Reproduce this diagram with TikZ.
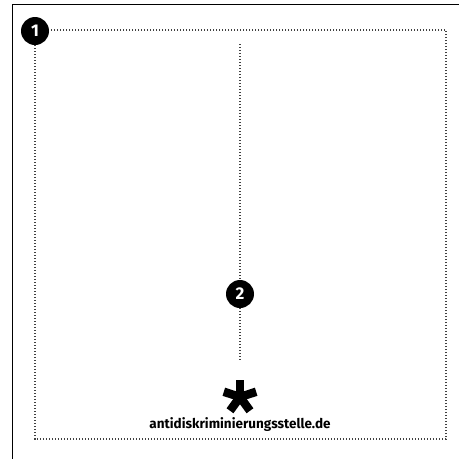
\documentclass[tikz,border=0pt]{standalone}
\usepackage{fontspec}
\setmainfont{Fira Sans}
\tikzset{
  frameline/.style={draw=black,line width=1pt},
  guide/.style={draw=black!75,line width=1.2pt,dash pattern=on 1.2pt off 1.8pt},
  badge/.style={circle,fill=black,text=white,inner sep=0pt,minimum size=28pt,font=\fontsize{17}{17}\selectfont\bfseries},
}
\begin{document}
\begin{tikzpicture}[x=1pt,y=-1pt]
\useasboundingbox (0,0) rectangle (459,459);
% outer frame
\draw[frameline] (12,459) -- (12,4) -- (459,4);
% dotted frame and guide line
\draw[guide] (35,30) rectangle (446,439);
\coordinate (vtop) at (240,44);
\coordinate (vbot) at (240,362);
\node[badge] (n1) at (35,31) {1};
\node[badge] (n2) at (240,294) {2};
\draw[guide] (vtop) -- (n2);
\draw[guide] (n2) -- (vbot);
% logo
\coordinate (ast) at (240,397);
\foreach \a in {90,18,162,234,306} \draw[line width=8.5pt] (ast) -- ++(-\a:17);
\node[font=\fontsize{13.5}{14}\selectfont\bfseries] (url) at (240,425) {antidiskriminierungsstelle.de};
\end{tikzpicture}
\end{document}
